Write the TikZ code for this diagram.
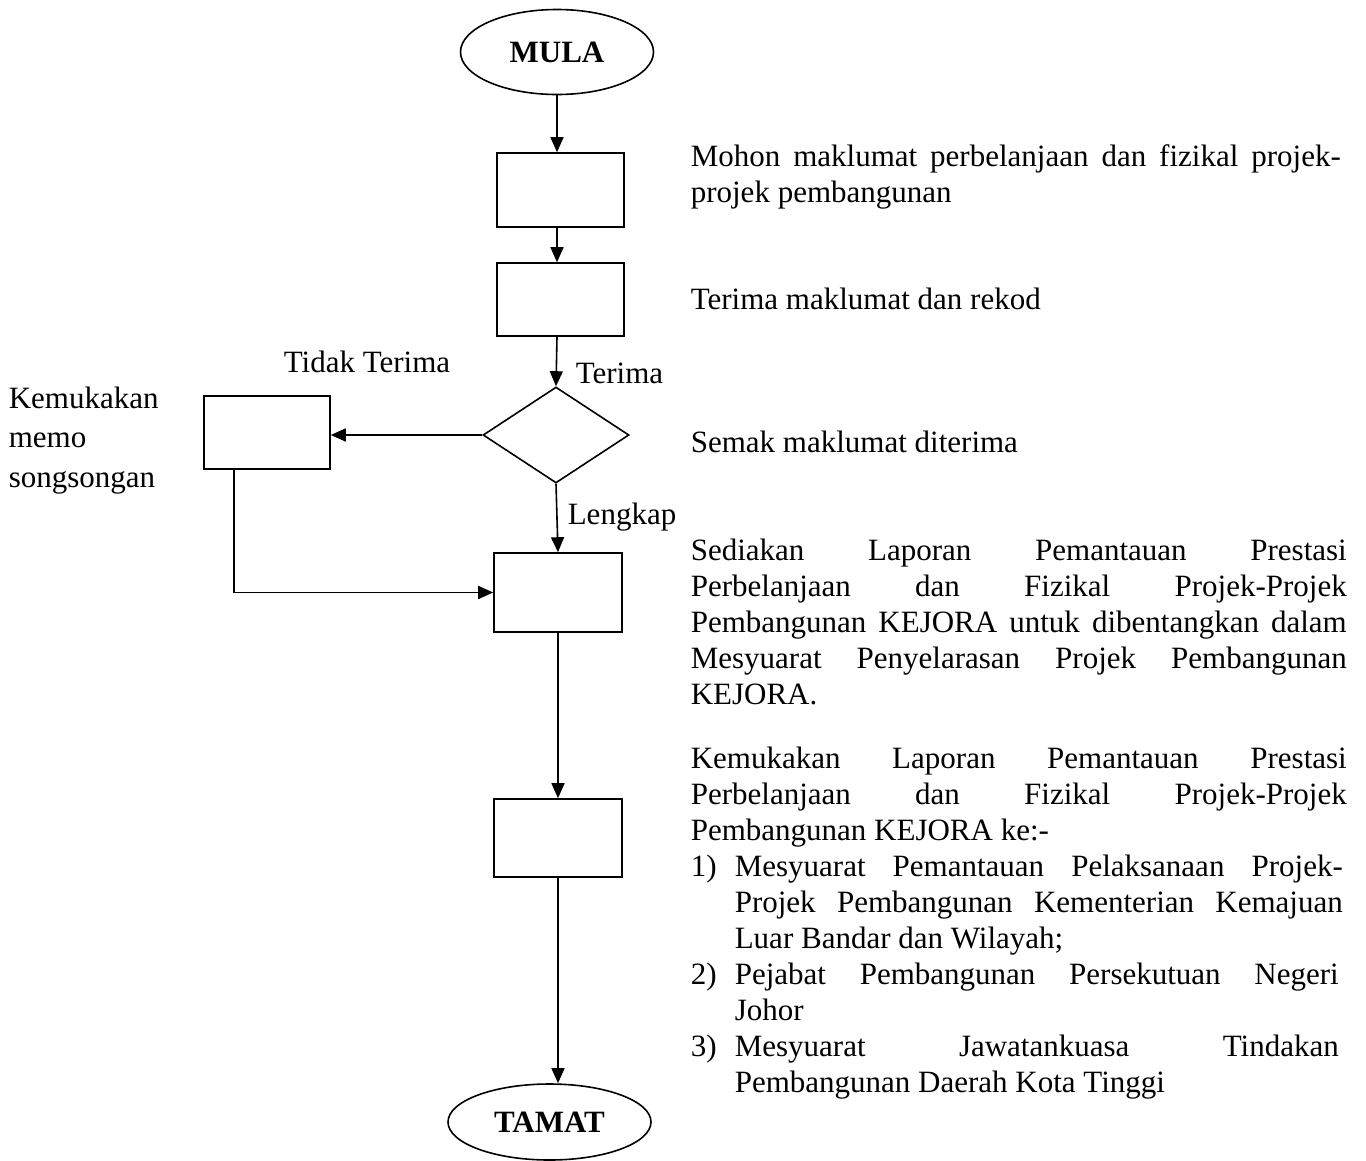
\documentclass[tikz,border=0pt]{standalone}
\usepackage{fontspec}
\setmainfont{Liberation Serif}
\usetikzlibrary{shapes.geometric,arrows.meta}
\begin{document}
\begin{tikzpicture}[x=1pt,y=-1pt,
  font=\fontsize{31}{36}\selectfont,
  line width=1.6pt,
  flow/.style={-{Triangle[length=15pt,width=13pt]}},
  procbox/.style={draw,rectangle,inner sep=0pt},
  term/.style={draw,ellipse,inner sep=0pt,font=\fontsize{31}{36}\selectfont\bfseries},
  txt/.style={anchor=base west,inner sep=0pt}]
\useasboundingbox (0,0) rectangle (1366,1160);
% shapes
\node[term,minimum width=193pt,minimum height=85pt] (mula) at (557,52) {MULA};
\node[procbox,minimum width=127pt,minimum height=74pt] (b1) at (560.5,190) {};
\node[procbox,minimum width=127pt,minimum height=73pt] (b2) at (560.5,299.5) {};
\node[draw,diamond,aspect=1.52,minimum width=146pt,minimum height=96pt,inner sep=0pt] (dia) at (556,435) {};
\node[procbox,minimum width=126pt,minimum height=73pt] (b3) at (267,432.5) {};
\node[procbox,minimum width=128pt,minimum height=79pt] (b4) at (558,592.5) {};
\node[procbox,minimum width=128pt,minimum height=78pt] (b5) at (558,838) {};
\node[term,minimum width=203pt,minimum height=76pt] (tamat) at (549.5,1122) {TAMAT};
\coordinate (b3out) at ([xshift=31pt]b3.south west);
% connectors
\draw[flow] (mula.south) -- (mula.south |- b1.north);
\draw[flow] (b1.south -| mula.south) -- (b2.north -| mula.south);
\draw[flow] (b2.south -| mula.south) -- (dia.north);
\draw[flow] (dia.west) -- (dia.west -| b3.east);
\draw[flow] (dia.south) -- (b4.north);
\draw[flow] (b3out) |- (b4.west);
\draw[flow] (b4.south) -- (b5.north);
\draw[flow] (b5.south) -- (b5.south |- tamat.north);
% labels
\node[txt] (lterima) at (575,383) {Terima};
\node[txt] (ltidak) at (283,372) {Tidak Terima};
\node[txt] (llengkap) at (567,524) {Lengkap};
\node[txt] (k1) at (8,408) {Kemukakan};
\node[txt] (k2) at (8,447) {memo};
\node[txt] (k3) at (8,487) {songsongan};
% right texts
\node[txt] (t1a) at (690,166) {\makebox[650pt][s]{Mohon maklumat perbelanjaan dan fizikal projek-}};
\node[txt] (t1b) at (690,202) {projek pembangunan};
\node[txt] (t2) at (690,309) {Terima maklumat dan rekod};
\node[txt] (t3) at (690,452) {Semak maklumat diterima};
\node[txt] (p1) at (690,560) {\makebox[656pt][s]{Sediakan Laporan Pemantauan Prestasi}};
\node[txt] (p2) at (690,596) {\makebox[656pt][s]{Perbelanjaan dan Fizikal Projek-Projek}};
\node[txt] (p3) at (690,632) {\makebox[656pt][s]{Pembangunan KEJORA untuk dibentangkan dalam}};
\node[txt] (p4) at (690,668) {\makebox[656pt][s]{Mesyuarat Penyelarasan Projek Pembangunan}};
\node[txt] (p5) at (690,704) {KEJORA.};
\node[txt] (q1) at (690,768) {\makebox[656pt][s]{Kemukakan Laporan Pemantauan Prestasi}};
\node[txt] (q2) at (690,804) {\makebox[656pt][s]{Perbelanjaan dan Fizikal Projek-Projek}};
\node[txt] (q3) at (690,840) {Pembangunan KEJORA ke:-};
\node[txt] (n1) at (690,876) {1)};
\node[txt] (q4) at (734,876) {\makebox[608pt][s]{Mesyuarat Pemantauan Pelaksanaan Projek-}};
\node[txt] (q5) at (734,912) {\makebox[608pt][s]{Projek Pembangunan Kementerian Kemajuan}};
\node[txt] (q6) at (734,948) {Luar Bandar dan Wilayah;};
\node[txt] (n2) at (690,984) {2)};
\node[txt] (q7) at (734,984) {\makebox[604pt][s]{Pejabat Pembangunan Persekutuan Negeri}};
\node[txt] (q8) at (734,1020) {Johor};
\node[txt] (n3) at (690,1056) {3)};
\node[txt] (q9) at (734,1056) {\makebox[604pt][s]{Mesyuarat Jawatankuasa Tindakan}};
\node[txt] (q10) at (734,1092) {Pembangunan Daerah Kota Tinggi};
\end{tikzpicture}
\end{document}
